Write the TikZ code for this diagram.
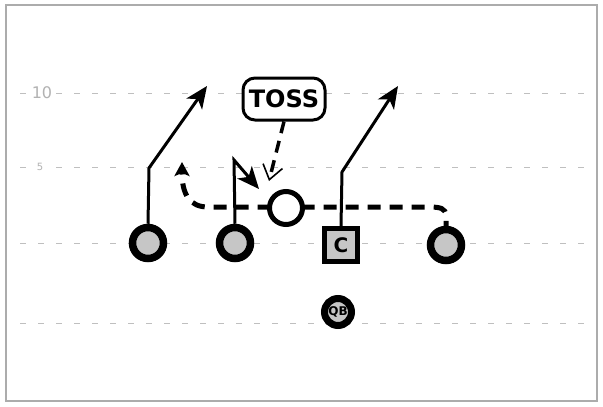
\documentclass[tikz,border=0pt]{standalone}
\usepackage{fontspec}
\setmainfont{DejaVu Sans}
\usetikzlibrary{arrows.meta}
\begin{document}
\begin{tikzpicture}[x=1pt,y=-1pt,
  yard/.style={gray!50, line width=1pt, dash pattern=on 6pt off 12pt},
  yardnum/.style={fill=white, text=gray!60, inner sep=1pt},
  player/.style={circle, draw=black, line width=7.5pt, fill=gray!45, minimum size=31pt, inner sep=0pt},
  ballnode/.style={circle, draw=black, line width=5pt, fill=white, minimum size=33pt, inner sep=0pt},
  centernode/.style={rectangle, draw=black, line width=5pt, fill=gray!45, minimum size=33pt, inner sep=0pt, font=\bfseries\fontsize{20}{20}\selectfont},
  qbnode/.style={circle, draw=black, line width=7pt, fill=gray!45, minimum size=27pt, inner sep=0pt, font=\bfseries\fontsize{12}{12}\selectfont},
  bubble/.style={rectangle, rounded corners=12pt, draw=black, line width=3pt, fill=white, minimum width=82pt, minimum height=42pt, font=\bfseries\fontsize{24}{24}\selectfont},
  route/.style={line width=3pt, -{Stealth[length=22pt, width=19pt, inset=6pt]}},
  motion/.style={line width=5pt, dash pattern=on 13pt off 9pt, dash phase=8pt, -{Stealth[length=14pt, width=15pt, inset=3pt]}},
  tosslink/.style={line width=3.5pt, dash pattern=on 12pt off 8pt, -{Straight Barb[length=14pt, width=20pt, line width=1.6pt]}}
]
\useasboundingbox (0,0) rectangle (603,407);
\fill[white] (0,0) rectangle (603,407);
\draw[gray!65, line width=2.5pt] (6,5) rectangle (597,401);
% yard lines
\draw[yard] (20,93) -- (586,93);
\draw[yard] (20,167) -- (586,167);
\draw[yard] (20,243) -- (586,243);
\draw[yard] (20,323) -- (586,323);
\node[yardnum, font=\fontsize{16}{16}\selectfont] (ten) at (42,93) {10};
\node[yardnum, font=\fontsize{10}{10}\selectfont] (five) at (40,167) {5};
% players
\node[player] (lt) at (148,243) {};
\node[player] (lg) at (235,243) {};
\node[centernode] (c) at (341,245) {C};
\node[player] (rt) at (446,245) {};
\node[qbnode] (qb) at (338,312) {QB};
\node[bubble] (toss) at (284,99) {TOSS};
% motion path
\coordinate (m1) at (446,216);
\coordinate (m2) at (428,207);
\coordinate (m3) at (208,207);
\coordinate (m4) at (182,162);
\draw[motion] (rt.north) -- (m1) .. controls (446,208) and (440,207) .. (m2) -- (m3) .. controls (190,207) and (182,195) .. (m4);
% routes
\coordinate (r1a) at (149,168);
\coordinate (r1e) at (207,86);
\draw[route] (lt.north) -- (r1a) -- (r1e);
\coordinate (r2a) at (234,160);
\coordinate (r2e) at (259,189);
\draw[route] (lg.north) -- (r2a) -- (r2e);
\coordinate (r3a) at (342,172);
\coordinate (r3e) at (398,86);
\draw[route] (c.north) -- (r3a) -- (r3e);
% ball
\node[ballnode] (b) at (286,208) {};
% toss link
\coordinate (tt) at (269,181);
\draw[tosslink] (toss.south) -- (tt);
\end{tikzpicture}
\end{document}
